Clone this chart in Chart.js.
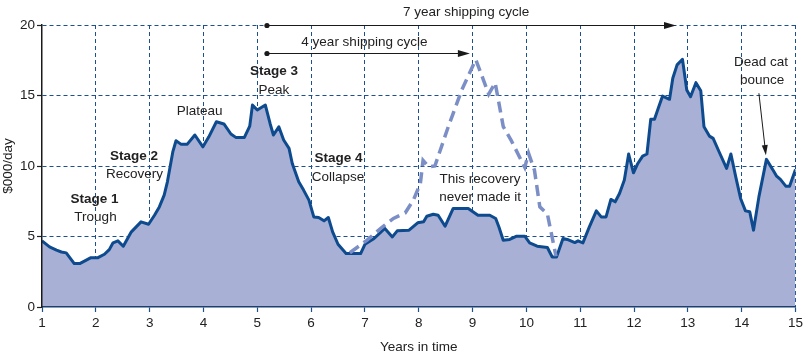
<!DOCTYPE html>
<html>
<head>
<meta charset="utf-8">
<script src="https://cdn.jsdelivr.net/npm/chart.js@4/dist/chart.umd.min.js"></script>
<style>
  html, body { margin: 0; padding: 0; background: #ffffff; }
  #wrap { width: 806px; height: 359px; position: relative; }
</style>
</head>
<body>
<div id="wrap"><canvas id="c" width="806" height="359"></canvas></div>
<script>
// ---- Data ----
const years = [1.0,1.14,1.27,1.36,1.45,1.6,1.7,1.91,2.04,2.16,2.25,2.32,2.41,2.51,2.66,2.84,2.98,3.09,3.18,3.27,3.33,3.43,3.49,3.58,3.7,3.84,3.99,4.1,4.24,4.38,4.51,4.6,4.76,4.86,4.91,5.0,5.15,5.24,5.3,5.4,5.49,5.59,5.65,5.77,5.86,5.96,6.05,6.14,6.24,6.32,6.4,6.5,6.65,6.92,7.0,7.17,7.37,7.51,7.6,7.82,7.98,8.09,8.15,8.27,8.36,8.49,8.64,8.92,9.1,9.32,9.43,9.49,9.57,9.69,9.82,9.97,10.06,10.2,10.39,10.48,10.56,10.68,10.76,10.9,10.96,11.05,11.17,11.3,11.39,11.48,11.57,11.65,11.73,11.82,11.9,11.99,12.07,12.16,12.24,12.31,12.38,12.45,12.53,12.66,12.72,12.8,12.9,12.98,13.05,13.15,13.24,13.3,13.4,13.47,13.58,13.72,13.8,13.89,13.98,14.07,14.15,14.22,14.32,14.46,14.59,14.65,14.72,14.82,14.89,15.0];
const rates = [4.69,4.26,4.03,3.9,3.84,3.08,3.08,3.5,3.5,3.74,4.07,4.55,4.69,4.31,5.33,6.04,5.87,6.51,7.1,7.93,8.88,11.0,11.79,11.55,11.55,12.2,11.36,12.07,13.14,12.98,12.27,12.03,12.03,12.83,14.32,13.97,14.32,12.98,12.2,12.78,11.84,11.25,10.18,8.88,8.29,7.58,6.39,6.35,6.11,6.35,5.33,4.45,3.79,3.79,4.45,4.86,5.57,4.97,5.4,5.45,5.97,6.04,6.44,6.58,6.51,5.73,6.99,6.99,6.51,6.51,6.28,5.68,4.74,4.79,5.02,5.02,4.55,4.31,4.22,3.55,3.55,4.86,4.79,4.57,4.69,4.55,5.68,6.82,6.39,6.39,7.63,7.46,8.05,9.0,10.85,9.52,10.18,10.7,10.85,13.31,13.31,14.09,14.96,14.73,16.22,17.17,17.57,15.39,14.91,15.91,15.34,12.78,12.12,11.96,11.01,9.83,10.85,9.23,7.7,6.82,6.75,5.45,7.81,10.47,9.66,9.28,9.05,8.57,8.57,9.76];

// Hypothetical recovery that never happened (dashed)
const altYears = [6.72,7.04,7.3,7.53,7.75,7.9,8.03,8.08,8.18,8.3,8.55,8.8,9.06,9.3,9.42,9.57,9.72,9.97,10.04,10.15,10.25,10.39,10.55];
const altRates = [3.85,4.74,5.6,6.28,6.68,7.58,8.76,10.4,9.95,10.0,12.8,15.4,17.55,15.1,15.9,12.8,11.8,9.9,10.9,9.7,7.1,6.6,3.6];

const xTicks = [1,2,3,4,5,6,7,8,9,10,11,12,13,14,15];
const yTicks = [0,5,10,15,20];

// ---- Annotations (data units) ----
const notes = [
  {t:'Stage 1', x:1.976, y:7.65, bold:true},
  {t:'Trough', x:1.994, y:6.39},
  {t:'Stage 2', x:2.711, y:10.70, bold:true},
  {t:'Recovery', x:2.717, y:9.42},
  {t:'Plateau', x:3.93, y:13.85},
  {t:'Stage 3', x:5.31, y:16.69, bold:true},
  {t:'Peak', x:5.31, y:15.39},
  {t:'Stage 4', x:6.51, y:10.54, bold:true},
  {t:'Collapse', x:6.5, y:9.23},
  {t:'This recovery', x:9.14, y:9.07},
  {t:'never made it', x:9.14, y:7.81},
  {t:'Dead cat', x:14.36, y:17.38},
  {t:'bounce', x:14.38, y:16.08},
  {t:'7 year shipping cycle', x:8.88, y:20.93},
  {t:'4 year shipping cycle', x:6.99, y:18.8}
];
const cycleArrows = [
  {x0:5.18, x1:12.78, y:20},
  {x0:5.18, x1:8.95, y:18}
];
const bounceArrow = {x0:14.32, y0:15.16, x1:14.45, y1:10.77};

const FONT = "'Liberation Sans', Arial, Helvetica, sans-serif";
const GRID = '#1d4f91';

function arrowHead(ctx, x0, y0, x1, y1, len, half) {
  const a = Math.atan2(y1 - y0, x1 - x0);
  ctx.beginPath();
  ctx.moveTo(x1, y1);
  ctx.lineTo(x1 - len*Math.cos(a) + half*Math.sin(a), y1 - len*Math.sin(a) - half*Math.cos(a));
  ctx.lineTo(x1 - len*Math.cos(a) - half*Math.sin(a), y1 - len*Math.sin(a) + half*Math.cos(a));
  ctx.closePath();
  ctx.fill();
}

const annoPlugin = {
  id: 'anno',
  afterDraw(chart) {
    const {ctx, scales: {x, y}} = chart;
    const px = v => x.getPixelForValue(v), py = v => y.getPixelForValue(v);
    ctx.save();
    ctx.textAlign = 'center';
    ctx.textBaseline = 'middle';
    ctx.fillStyle = '#222222';
    notes.forEach(n => {
      ctx.font = (n.bold ? 'bold ' : '') + '13.5px ' + FONT;
      ctx.fillText(n.t, px(n.x), py(n.y));
    });
    ctx.strokeStyle = '#1a1a1a';
    ctx.fillStyle = '#1a1a1a';
    ctx.lineWidth = 1.2;
    cycleArrows.forEach(a => {
      const X0 = px(a.x0), X1 = px(a.x1), Y = Math.round(py(a.y)) + 0.5;
      ctx.beginPath(); ctx.moveTo(X0, Y); ctx.lineTo(X1 - 6, Y); ctx.stroke();
      arrowHead(ctx, X0, Y, X1, Y, 12, 3.6);
      ctx.beginPath(); ctx.arc(X0, Y, 2.6, 0, Math.PI*2); ctx.fill();
    });
    const b = bounceArrow;
    const bx0 = px(b.x0), by0 = py(b.y0), bx1 = px(b.x1), by1 = py(b.y1);
    ctx.lineWidth = 1;
    ctx.beginPath(); ctx.moveTo(bx0, by0); ctx.lineTo(bx1 - (bx1-bx0)*0.12, by1 - (by1-by0)*0.12); ctx.stroke();
    arrowHead(ctx, bx0, by0, bx1, by1, 10, 3);
    ctx.restore();
  }
};

new Chart(document.getElementById('c'), {
  type: 'line',
  data: {
    datasets: [
      {
        label: 'Never happened',
        data: altYears.map((v, i) => ({x: v, y: altRates[i]})),
        borderColor: '#7c8ec6',
        borderWidth: 3.5,
        borderDash: [11, 6],
        fill: false,
        pointRadius: 0,
        tension: 0
      },
      {
        label: 'Freight rate',
        data: years.map((v, i) => ({x: v, y: rates[i]})),
        borderColor: '#0d4a8e',
        backgroundColor: '#a8b0d5',
        borderWidth: 3,
        borderJoinStyle: 'round',
        fill: 'origin',
        pointRadius: 0,
        tension: 0
      }
    ]
  },
  options: {
    responsive: false,
    animation: false,
    layout: { padding: { top: 25, right: 9, left: 0, bottom: 0 } },
    plugins: { legend: { display: false }, tooltip: { enabled: false } },
    scales: {
      x: {
        type: 'linear',
        min: 1, max: 15,
        afterBuildTicks: s => { s.ticks = xTicks.map(v => ({value: v})); },
        afterFit: s => { s.height = 52; },
        ticks: { color: '#222222', font: { family: FONT, size: 13.5 }, padding: 3, maxRotation: 0, autoSkip: false },
        grid: {
          color: c => (c.tick && c.tick.value === 1) ? 'rgba(0,0,0,0)' : GRID,
          lineWidth: 1,
          tickLength: 5,
          tickColor: GRID,
          tickWidth: 1.2
        },
        border: { display: true, color: '#1d3f70', width: 1.5, dash: [4, 3], z: 1 },
        title: { display: true, text: 'Years in time', color: '#222222', font: { family: FONT, size: 13.5 }, padding: { top: 0, bottom: 4 } }
      },
      y: {
        min: 0, max: 20,
        afterBuildTicks: s => { s.ticks = yTicks.map(v => ({value: v})); },
        afterFit: s => { s.width = 42; },
        ticks: { color: '#222222', font: { family: FONT, size: 13.5 }, padding: 2 },
        grid: {
          color: c => (c.tick && c.tick.value === 0) ? 'rgba(0,0,0,0)' : GRID,
          lineWidth: 1,
          tickLength: 5,
          tickColor: '#222222',
          tickWidth: 1.2
        },
        border: { display: true, color: '#1a1a1a', width: 1.5, dash: [4, 3], z: 1 },
        title: { display: true, text: '$000/day', color: '#222222', font: { family: FONT, size: 13.5 }, padding: { top: 0, bottom: 0 } }
      }
    }
  },
  plugins: [annoPlugin]
});
</script>
</body>
</html>
